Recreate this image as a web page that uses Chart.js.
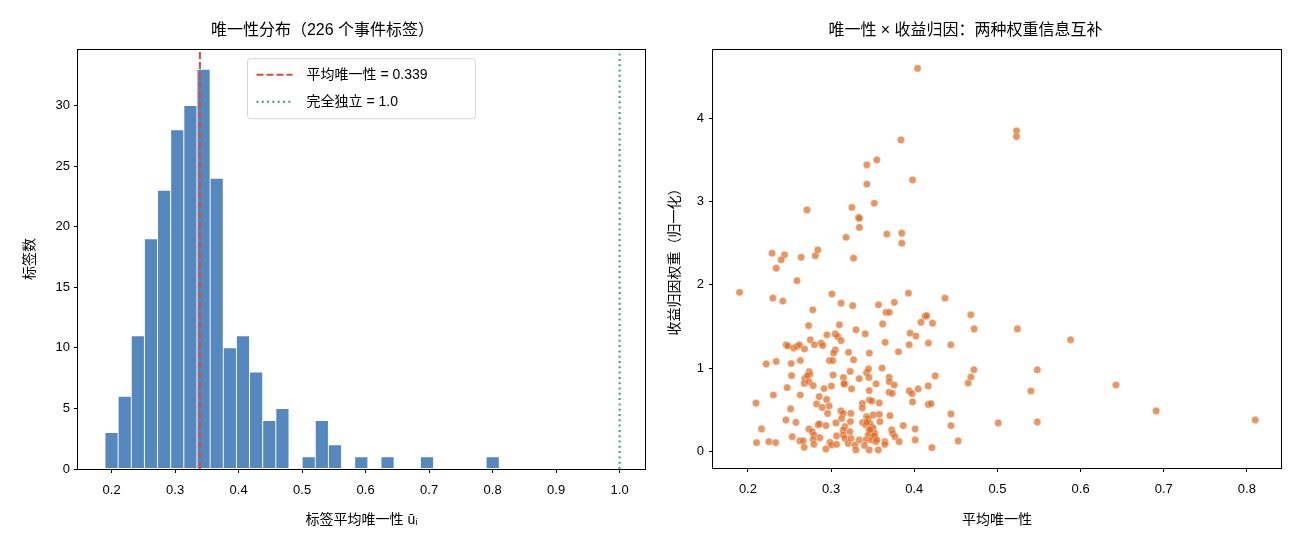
<!DOCTYPE html>
<html>
<head>
<meta charset="utf-8">
<script src="https://cdn.jsdelivr.net/npm/chart.js@4"></script>
<style>
  html, body { margin: 0; padding: 0; background: #fff; }
  #wrap { position: relative; width: 1300px; height: 546px; }
  canvas { position: absolute; top: 0; }
</style>
</head>
<body>
<div id="wrap">
  <canvas id="histChart" width="650" height="546" style="left:0"></canvas>
  <canvas id="scatterChart" width="650" height="546" style="left:650px"></canvas>
</div>
<script>
const FONT = "'Liberation Sans', 'Noto Sans CJK SC', sans-serif";

// histogram of label uniqueness (30 bins)
const binStart = 0.1895;
const binWidth = 0.0207;
const binCounts = [3, 6, 11, 19, 23, 28, 30, 33, 24, 10, 11, 8, 4, 5, 0,
                   1, 4, 2, 0, 1, 0, 1, 0, 0, 1, 0, 0, 0, 0, 1];
const meanUniq = 0.339;
const fullIndep = 1.0;
const histXTicks = [0.2, 0.3, 0.4, 0.5, 0.6, 0.7, 0.8, 0.9, 1.0];
const histYTicks = [0, 5, 10, 15, 20, 25, 30];
const histXRange = [0.147, 1.04];
const histYRange = [0, 34.65];

// uniqueness vs. return attribution weight (one point per label)
const uniqX = [
  0.404, 0.384, 0.355, 0.343, 0.398, 0.343, 0.352, 0.325, 0.271, 0.333, 0.334, 0.334, 0.318,
  0.367, 0.385, 0.385, 0.229, 0.244, 0.240, 0.234, 0.264, 0.281, 0.284, 0.327, 0.259,
  0.190, 0.230, 0.242, 0.301, 0.312, 0.326, 0.278, 0.357, 0.376, 0.393, 0.366, 0.370, 0.437,
  0.468, 0.472, 0.413, 0.415, 0.408, 0.422, 0.273, 0.310, 0.362, 0.330, 0.341, 0.395, 0.402,
  0.295, 0.305, 0.308, 0.312, 0.275, 0.365, 0.417, 0.394, 0.444, 0.246, 0.248, 0.255, 0.259,
  0.262, 0.268, 0.280, 0.288, 0.290, 0.305, 0.303, 0.321, 0.327, 0.346, 0.381, 0.222, 0.234,
  0.252, 0.263, 0.298, 0.302, 0.323, 0.524, 0.588, 0.523, 0.523,
  0.2525, 0.2737, 0.2745, 0.2685, 0.2715, 0.2677, 0.2733, 0.2785, 0.2472, 0.2306, 0.2097,
  0.2629, 0.3025, 0.2916, 0.3004, 0.3148, 0.3166, 0.3154, 0.3247, 0.3338, 0.3427, 0.345,
  0.3455, 0.3541, 0.3613, 0.3698, 0.370, 0.3759, 0.3698, 0.3735, 0.3458, 0.3461, 0.3491,
  0.3376, 0.3376, 0.3579, 0.394, 0.3974, 0.4047, 0.398, 0.4168, 0.4252, 0.417, 0.4203,
  0.4441, 0.4441, 0.4528, 0.4649, 0.4681, 0.4717, 0.501, 0.5479, 0.5403, 0.5479, 0.6425,
  0.6909, 0.81, 0.2513, 0.2457, 0.2577, 0.2164, 0.2104, 0.2252, 0.2333, 0.2532, 0.2625,
  0.2665, 0.2677, 0.2733, 0.2773, 0.2793, 0.2785, 0.2793, 0.2845, 0.2859, 0.2938, 0.2865,
  0.2938, 0.2986, 0.3006, 0.3066, 0.3066, 0.3058, 0.2857, 0.2946, 0.2826, 0.2893, 0.2977,
  0.2958, 0.3118, 0.3146, 0.3126, 0.3232, 0.3166, 0.3146, 0.3226, 0.3146, 0.3166, 0.3206,
  0.3238,
  0.3286, 0.3298, 0.3338, 0.3427, 0.3446, 0.3506, 0.3579, 0.3587, 0.3379, 0.3419, 0.3467,
  0.3487, 0.3506, 0.3458, 0.3475, 0.3446, 0.3499, 0.3527, 0.3419, 0.3487, 0.3539, 0.3458,
  0.3567, 0.3647, 0.3647, 0.3728, 0.374, 0.3767, 0.3819, 0.3867, 0.4011, 0.4011, 0.4212,
  0.3708, 0.3238,
  0.347, 0.352, 0.343, 0.355, 0.340
];
const attrW = [
  4.60, 3.74, 3.50, 3.44, 3.26, 3.21, 2.98, 2.93, 2.90, 2.81, 2.80, 2.69, 2.57,
  2.61, 2.62, 2.50, 2.38, 2.36, 2.30, 2.20, 2.33, 2.35, 2.42, 2.32, 2.05,
  1.91, 1.84, 1.805, 1.89, 1.78, 1.75, 1.70, 1.76, 1.79, 1.90, 1.67, 1.67, 1.84,
  1.64, 1.47, 1.62, 1.63, 1.55, 1.54, 1.51, 1.52, 1.53, 1.46, 1.41, 1.42, 1.385,
  1.40, 1.41, 1.38, 1.33, 1.34, 1.31, 1.30, 1.28, 1.28, 1.28, 1.265, 1.24, 1.26,
  1.28, 1.23, 1.28, 1.30, 1.27, 1.22, 1.18, 1.19, 1.10, 1.18, 1.195, 1.05, 1.08,
  1.055, 1.09, 1.09, 1.09, 0.96, 1.47, 1.34, 3.85, 3.78,
  0.91, 0.957, 0.924, 0.876, 0.909, 0.816, 0.837, 0.789, 0.765, 0.677, 0.58,
  0.677, 0.917, 0.755, 0.785, 0.887, 0.807, 0.813, 0.75, 0.873, 0.945, 0.99,
  0.888, 0.81, 1.00, 0.89, 0.837, 0.797, 0.71, 0.696, 0.73, 0.617, 0.605,
  0.575, 0.522, 0.582, 0.726, 0.693, 0.75, 0.594, 0.786, 0.906, 0.564, 0.573,
  0.449, 0.309, 0.125, 0.821, 0.893, 0.98, 0.341, 0.98, 0.725, 0.353, 0.797,
  0.485, 0.377, 0.509, 0.377, 0.348, 0.269, 0.104, 0.116, 0.104, 0.176, 0.125,
  0.125, 0.048, 0.269, 0.236, 0.197, 0.144, 0.084, 0.317, 0.329, 0.309, 0.164,
  0.029, 0.108, 0.077, 0.185, 0.084, 0.341, 0.657, 0.624, 0.569, 0.528, 0.545,
  0.456, 0.485, 0.456, 0.396, 0.357, 0.297, 0.257, 0.236, 0.197, 0.156, 0.096,
  0.456,
  0.077, 0.017, 0.137, 0.417, 0.396, 0.437, 0.444, 0.357, 0.345, 0.317, 0.336,
  0.297, 0.276, 0.257, 0.216, 0.197, 0.176, 0.216, 0.137, 0.137, 0.116, 0.017,
  0.017, 0.116, 0.084, 0.257, 0.216, 0.176, 0.116, 0.309, 0.269, 0.137, 0.044,
  0.429, 0.156,
  0.26, 0.19, 0.35, 0.14, 0.07
];
const scatXTicks = [0.2, 0.3, 0.4, 0.5, 0.6, 0.7, 0.8];
const scatYTicks = [0, 1, 2, 3, 4];
const scatXRange = [0.158, 0.841];
const scatYRange = [-0.2, 4.83];

Chart.defaults.font.family = FONT;
Chart.defaults.color = '#000';

// full box around the plot area, like matplotlib spines
const framePlugin = {
  id: 'frame',
  afterDraw(chart) {
    const {ctx, chartArea: a} = chart;
    ctx.save();
    ctx.strokeStyle = '#000';
    ctx.lineWidth = 1;
    ctx.strokeRect(Math.round(a.left) - 0.5, Math.round(a.top) + 0.5,
                   Math.round(a.right - a.left) + 1, Math.round(a.bottom - a.top));
    ctx.restore();
  }
};

function axis(range, ticks, title, size, titlePad, fmt) {
  return {
    type: 'linear',
    min: range[0],
    max: range[1],
    offset: false,
    grid: {display: true, drawOnChartArea: false, drawTicks: true, tickLength: 4, color: '#000', offset: false},
    border: {display: false},
    ticks: {font: {size: 13}, color: '#000', padding: 4, callback: fmt, autoSkip: false, maxRotation: 0},
    title: {display: true, text: title, font: {size: 14}, color: '#000', padding: titlePad},
    afterBuildTicks: s => { s.ticks = ticks.map(v => ({value: v})); },
    afterFit: s => { if (s.isHorizontal()) s.height = size; else s.width = size; }
  };
}

const fmt1 = v => v.toFixed(1);
const fmt0 = v => String(v);

// ---- left: histogram ----
const histX = axis(histXRange, histXTicks, '标签平均唯一性 ūᵢ', 77, {top: 0, bottom: 17}, fmt1);
histX.ticks.padding = 10;
const histY = axis(histYRange, histYTicks, '标签数', 78, {top: 22, bottom: 0}, fmt0);

const legendPlugin = {
  id: 'histLegend',
  afterDraw(chart) {
    const {ctx, chartArea: a} = chart;
    const x0 = a.left + 169.5, y0 = a.top + 9.5;
    ctx.save();
    ctx.fillStyle = 'rgba(255,255,255,0.8)';
    ctx.strokeStyle = '#d4d4d4';
    ctx.lineWidth = 1;
    ctx.beginPath();
    ctx.roundRect(x0, y0, 228, 60, 3);
    ctx.fill();
    ctx.stroke();
    const items = [
      {text: '平均唯一性 = ' + meanUniq.toFixed(3), color: '#e5453c', dash: [7, 3], y: y0 + 16},
      {text: '完全独立 = ' + fullIndep.toFixed(1), color: '#3d9b6b', dash: [2, 3.3], y: y0 + 43}
    ];
    ctx.font = '14px ' + FONT;
    ctx.textBaseline = 'middle';
    for (const it of items) {
      ctx.strokeStyle = it.color;
      ctx.lineWidth = 2;
      ctx.setLineDash(it.dash);
      ctx.beginPath();
      ctx.moveTo(x0 + 9, it.y);
      ctx.lineTo(x0 + 45, it.y);
      ctx.stroke();
      ctx.setLineDash([]);
      ctx.fillStyle = '#000';
      ctx.fillText(it.text, x0 + 59, it.y);
    }
    ctx.restore();
  }
};

new Chart(document.getElementById('histChart'), {
  type: 'bar',
  data: {
    datasets: [
      {
        type: 'bar',
        order: 2,
        data: binCounts.map((c, i) => ({x: binStart + (i + 0.5) * binWidth, y: c})),
        backgroundColor: '#5688c0',
        borderColor: '#ffffff',
        borderWidth: 0.8,
        borderSkipped: false,
        barPercentage: 1,
        categoryPercentage: 1
      },
      {
        type: 'line',
        order: 1,
        data: [{x: meanUniq, y: histYRange[0]}, {x: meanUniq, y: histYRange[1]}],
        borderColor: '#e5453c',
        borderWidth: 2,
        borderDash: [7, 3],
        pointRadius: 0
      },
      {
        type: 'line',
        order: 1,
        data: [{x: fullIndep, y: histYRange[0]}, {x: fullIndep, y: histYRange[1]}],
        borderColor: '#3d9b6b',
        borderWidth: 2,
        borderDash: [2, 3.3],
        pointRadius: 0
      }
    ]
  },
  options: {
    responsive: false,
    animation: false,
    events: [],
    layout: {padding: {left: 0, right: 5, top: 0, bottom: 0}},
    plugins: {
      legend: {display: false},
      tooltip: {enabled: false},
      title: {display: true, text: '唯一性分布（226 个事件标签）', font: {size: 16, weight: 'normal'}, color: '#000', padding: {top: 21, bottom: 9}}
    },
    scales: {x: histX, y: histY}
  },
  plugins: [framePlugin, legendPlugin]
});

// ---- right: scatter ----
const scatX = axis(scatXRange, scatXTicks, '平均唯一性', 78, {top: 0, bottom: 17}, fmt1);
scatX.ticks.padding = 10;
const scatY = axis(scatYRange, scatYTicks, '收益归因权重（归一化）', 63, {top: 17, bottom: 0}, fmt0);
scatY.ticks.padding = 5;

new Chart(document.getElementById('scatterChart'), {
  type: 'scatter',
  data: {
    datasets: [{
      data: uniqX.map((x, i) => ({x: x, y: attrW[i]})),
      backgroundColor: 'rgba(220,105,35,0.7)',
      borderColor: 'rgba(255,225,200,0.55)',
      borderWidth: 0.8,
      pointRadius: 3.6
    }]
  },
  options: {
    responsive: false,
    animation: false,
    events: [],
    layout: {padding: {left: 0, right: 19, top: 0, bottom: 0}},
    plugins: {
      legend: {display: false},
      tooltip: {enabled: false},
      title: {display: true, text: '唯一性 × 收益归因：两种权重信息互补', font: {size: 16, weight: 'normal'}, color: '#000', padding: {top: 21, bottom: 9}}
    },
    scales: {x: scatX, y: scatY}
  },
  plugins: [framePlugin]
});
</script>
</body>
</html>
